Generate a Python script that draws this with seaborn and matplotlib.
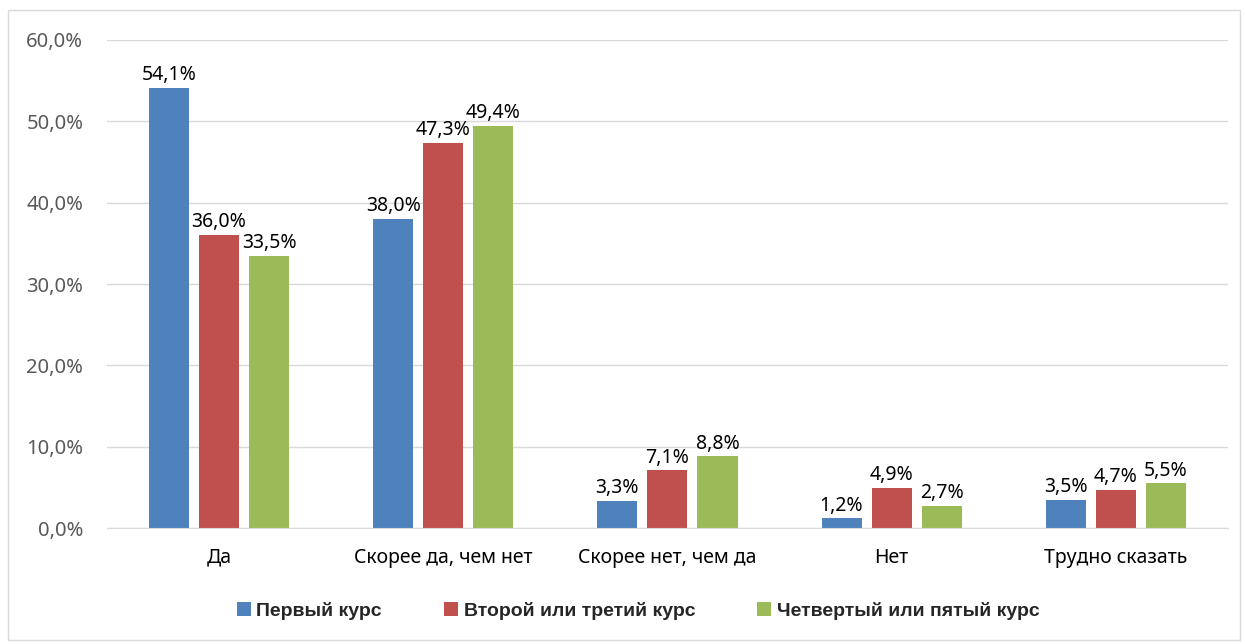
import seaborn as sns
import pandas as pd
import matplotlib.pyplot as plt
from matplotlib.patches import Rectangle

categories = ['Да', 'Скорее да, чем нет', 'Скорее нет, чем да', 'Нет', 'Трудно сказать']
groups = ['Первый курс', 'Второй или третий курс', 'Четвертый или пятый курс']
first = [54.1, 38.0, 3.3, 1.2, 3.5]
second = [36.0, 47.3, 7.1, 4.9, 4.7]
third = [33.5, 49.4, 8.8, 2.7, 5.5]
colors = ['#4F81BD', '#C0504D', '#9BBB59']

rows = []
for g, vals in zip(groups, [first, second, third]):
    for c, v in zip(categories, vals):
        rows.append({'cat': c, 'group': g, 'value': v})
df = pd.DataFrame(rows)

sns.set_style('white')
plt.rcParams['font.family'] = ['Noto Sans', 'DejaVu Sans']

fig = plt.figure(figsize=(12.45, 6.44), dpi=100)
ax = fig.add_axes([0.0859, 0.180, 0.9004, 0.758])

sns.barplot(data=df, x='cat', y='value', hue='group', palette=colors,
            width=0.67, gap=0.2, ax=ax, errorbar=None, saturation=1, linewidth=0)

for cont in ax.containers:
    ax.bar_label(cont, labels=[('%.1f%%' % b.get_height()).replace('.', ',') for b in cont],
                 padding=2, fontsize=14, color='black')

ax.set_ylim(0, 60)
ax.set_xlim(-0.5, 4.5)
ax.set_yticks(range(0, 61, 10))
ax.set_yticklabels([('%.1f%%' % t).replace('.', ',') for t in range(0, 61, 10)],
                   fontsize=14.5, color='#595959')
ax.tick_params(axis='x', labelsize=14, colors='black', length=0, pad=14)
ax.tick_params(axis='y', length=0, pad=17)
ax.set_xlabel('')
ax.set_ylabel('')
ax.yaxis.grid(True, color='#d9d9d9', linewidth=1)
ax.set_axisbelow(True)
for s in ['left', 'right', 'top']:
    ax.spines[s].set_visible(False)
ax.spines['bottom'].set_color('#d9d9d9')

leg = ax.legend(loc='center', bbox_to_anchor=(0.474, -0.17), ncol=3, frameon=False,
                handlelength=0.7, handleheight=0.7, handletextpad=0.3, columnspacing=3.2,
                prop={'family': ['Liberation Sans', 'DejaVu Sans'], 'weight': 'bold', 'size': 14})

fig.patches.append(Rectangle((8 / 1245, 4 / 644), 1232 / 1245, 630 / 644,
                             transform=fig.transFigure, fill=False,
                             edgecolor='#d9d9d9', linewidth=1))

plt.savefig('out.png', dpi=100)
